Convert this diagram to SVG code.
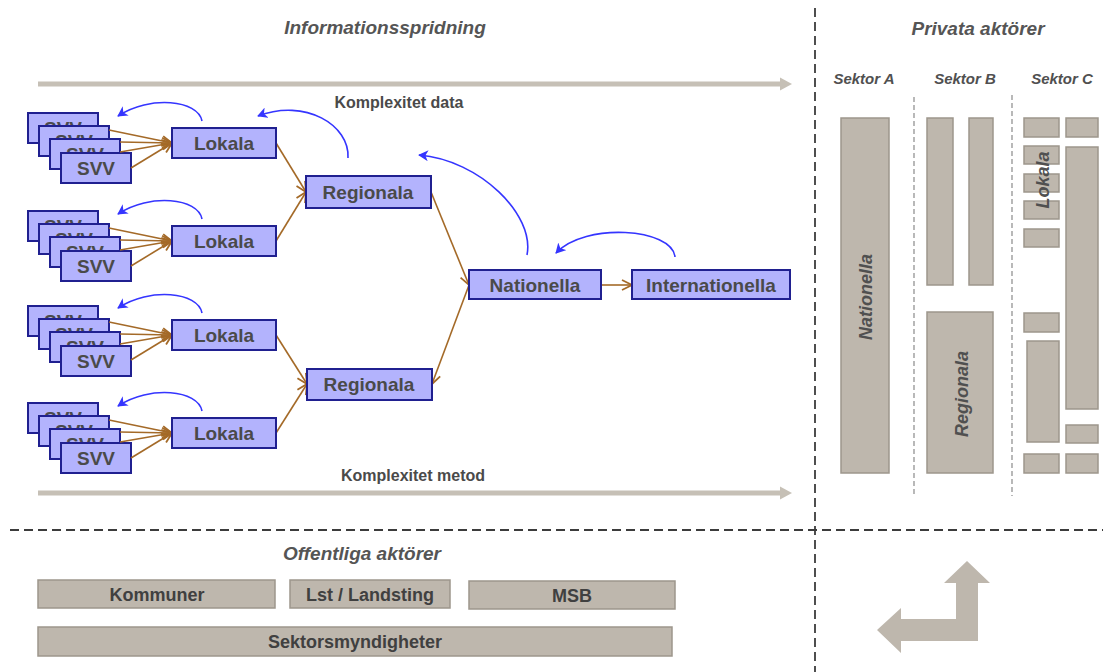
<svg xmlns="http://www.w3.org/2000/svg" width="1103" height="672" viewBox="0 0 1103 672">
  <defs>
    <style>
      .bg { fill: #ffffff; }
      .node rect { fill: #b3b3fd; stroke: #202090; stroke-width: 2; }
      .node text, .lbl { font-family: "Liberation Sans", Arial, sans-serif; font-weight: bold; font-size: 19px; fill: #4a4a4a; text-anchor: middle; }
      .gbox { fill: #beb7ad; stroke: #9d968c; stroke-width: 1.5; }
      .gtext { font-family: "Liberation Sans", Arial, sans-serif; font-weight: bold; font-size: 18px; fill: #404040; text-anchor: middle; }
      .head { font-family: "Liberation Sans", Arial, sans-serif; font-weight: bold; font-style: italic; font-size: 19px; fill: #555555; text-anchor: middle; }
      .sek { font-family: "Liberation Sans", Arial, sans-serif; font-weight: bold; font-style: italic; font-size: 15px; fill: #505050; text-anchor: middle; }
      .rot { font-family: "Liberation Sans", Arial, sans-serif; font-weight: bold; font-style: italic; font-size: 18px; fill: #505050; text-anchor: middle; }
      .axis { font-family: "Liberation Sans", Arial, sans-serif; font-weight: bold; font-size: 16px; fill: #4a4a4a; text-anchor: middle; }
      .flow { fill: none; stroke: #a46a28; stroke-width: 1.6; marker-end: url(#brown); }
      .back { fill: none; stroke: #3535ff; stroke-width: 1.6; marker-end: url(#blue); }
      .div { fill: none; stroke: #3c3c3c; stroke-width: 1.8; stroke-dasharray: 9 5; }
      .sdiv { fill: none; stroke: #8a8a8a; stroke-width: 1.2; stroke-dasharray: 5 3; }
      .trend { fill: none; stroke: #c6c0b6; stroke-width: 5; }
    </style>
    <marker id="brown" viewBox="0 0 12 12" refX="11" refY="6" markerWidth="12" markerHeight="12" markerUnits="userSpaceOnUse" orient="auto">
      <path d="M1,1 L11,6 L1,11" fill="none" stroke="#a46a28" stroke-width="1.8"/>
    </marker>
    <marker id="blue" viewBox="0 0 12 12" refX="10" refY="6" markerWidth="11" markerHeight="11" markerUnits="userSpaceOnUse" orient="auto">
      <path d="M0,0 L11,6 L0,12 L3,6 z" fill="#3535ff"/>
    </marker>
    <!-- stack of four SVV sources -->
    <g id="svvStack">
      <g class="node"><rect x="28" y="0" width="70" height="30"/><text x="63" y="22">SVV</text></g>
      <g class="node"><rect x="39" y="13" width="70" height="30"/><text x="74" y="35">SVV</text></g>
      <g class="node"><rect x="50" y="26" width="70" height="30"/><text x="85" y="48">SVV</text></g>
      <g class="node"><rect x="61" y="40" width="70" height="30"/><text x="96" y="62">SVV</text></g>
    </g>
  </defs>

  <rect class="bg" x="0" y="0" width="1103" height="672"/>

  <!-- section dividers -->
  <g id="dividers">
    <line class="div" x1="815" y1="8" x2="815" y2="672"/>
    <line class="div" x1="10" y1="530" x2="1103" y2="530"/>
    <line class="sdiv" x1="914" y1="97" x2="914" y2="496"/>
    <line class="sdiv" x1="1012" y1="95" x2="1012" y2="496"/>
  </g>

  <!-- headings -->
  <text class="head" x="385" y="34">Informationsspridning</text>
  <text class="head" x="978" y="35">Privata aktörer</text>
  <text class="head" x="362" y="560">Offentliga aktörer</text>

  <!-- complexity trend arrows -->
  <g id="trends">
    <line class="trend" x1="38" y1="84" x2="782" y2="84"/>
    <polygon points="780,77.5 792,84 780,90.5" fill="#c6c0b6"/>
    <text class="axis" x="399" y="108">Komplexitet data</text>
    <line class="trend" x1="38" y1="493" x2="782" y2="493"/>
    <polygon points="780,486.5 792,493 780,499.5" fill="#c6c0b6"/>
    <text class="axis" x="413" y="481">Komplexitet metod</text>
  </g>

  <!-- SVV source stacks -->
  <g id="svv1"><use href="#svvStack" x="0" y="113"/></g>
  <g id="svv2"><use href="#svvStack" x="0" y="211"/></g>
  <g id="svv3"><use href="#svvStack" x="0" y="306"/></g>
  <g id="svv4"><use href="#svvStack" x="0" y="403"/></g>

  <!-- connectors -->
  <g id="connectors">
    <!-- SVV to Lokala -->
    <path class="flow" d="M109,130 L172,143"/>
    <path class="flow" d="M120,142 L172,143"/>
    <path class="flow" d="M120,152 L172,143"/>
    <path class="flow" d="M131,168 L172,143"/>

    <path class="flow" d="M109,228 L172,241"/>
    <path class="flow" d="M120,240 L172,241"/>
    <path class="flow" d="M120,250 L172,241"/>
    <path class="flow" d="M131,266 L172,241"/>

    <path class="flow" d="M109,322 L172,335"/>
    <path class="flow" d="M120,334 L172,335"/>
    <path class="flow" d="M120,344 L172,335"/>
    <path class="flow" d="M131,360 L172,335"/>

    <path class="flow" d="M109,420 L172,433"/>
    <path class="flow" d="M120,432 L172,433"/>
    <path class="flow" d="M120,442 L172,433"/>
    <path class="flow" d="M131,458 L172,433"/>

    <!-- Lokala to Regionala -->
    <path class="flow" d="M276,143 L306,192"/>
    <path class="flow" d="M276,241 L306,192"/>
    <path class="flow" d="M276,335 L307,384"/>
    <path class="flow" d="M276,433 L307,384"/>

    <!-- Regionala / Nationella / Internationella -->
    <path class="flow" d="M431,192 L469,285"/>
    <path class="flow" d="M469,285 L432,384"/>
    <path class="flow" d="M601,285 L632,285"/>

    <!-- feedback loops -->
    <path class="back" d="M202,121 C198,100 150,95 118,116"/>
    <path class="back" d="M202,219 C198,198 150,193 118,214"/>
    <path class="back" d="M202,313 C198,292 150,287 118,308"/>
    <path class="back" d="M202,411 C198,390 150,385 118,406"/>
    <path class="back" d="M348,158 C350,125 305,98 258,116"/>
    <path class="back" d="M527,255 C535,215 480,160 419,155"/>
    <path class="back" d="M675,257 C672,228 585,222 556,253"/>
  </g>

  <!-- aggregation levels -->
  <g id="lokala1" class="node"><rect x="172" y="128" width="104" height="30"/><text x="224" y="150">Lokala</text></g>
  <g id="lokala2" class="node"><rect x="172" y="226" width="104" height="30"/><text x="224" y="248">Lokala</text></g>
  <g id="lokala3" class="node"><rect x="172" y="320" width="104" height="30"/><text x="224" y="342">Lokala</text></g>
  <g id="lokala4" class="node"><rect x="172" y="418" width="104" height="30"/><text x="224" y="440">Lokala</text></g>
  <g id="regionala1" class="node"><rect x="306" y="176" width="125" height="32"/><text x="368" y="199">Regionala</text></g>
  <g id="regionala2" class="node"><rect x="307" y="369" width="125" height="31"/><text x="369" y="391">Regionala</text></g>
  <g id="nationella" class="node"><rect x="469" y="270" width="132" height="29"/><text x="535" y="292">Nationella</text></g>
  <g id="internationella" class="node"><rect x="632" y="270" width="158" height="29"/><text x="711" y="292">Internationella</text></g>

  <!-- private sectors -->
  <g id="privata">
    <text class="sek" x="864" y="84">Sektor A</text>
    <text class="sek" x="965" y="84">Sektor B</text>
    <text class="sek" x="1062" y="84">Sektor C</text>

    <g id="sektorA">
      <rect class="gbox" x="841" y="118" width="48" height="355"/>
      <text class="rot" transform="translate(872,297) rotate(-90)">Nationella</text>
    </g>

    <g id="sektorB">
      <rect class="gbox" x="927" y="118" width="26" height="167"/>
      <rect class="gbox" x="969" y="118" width="24" height="167"/>
      <rect class="gbox" x="927" y="312" width="66" height="161"/>
      <text class="rot" transform="translate(968,394) rotate(-90)">Regionala</text>
    </g>

    <g id="sektorC">
      <rect class="gbox" x="1024" y="118" width="35" height="19"/>
      <rect class="gbox" x="1024" y="146" width="35" height="18"/>
      <rect class="gbox" x="1024" y="174" width="35" height="18"/>
      <rect class="gbox" x="1024" y="201" width="35" height="18"/>
      <rect class="gbox" x="1024" y="229" width="35" height="18"/>
      <rect class="gbox" x="1024" y="313" width="35" height="19"/>
      <rect class="gbox" x="1027" y="341" width="32" height="101"/>
      <rect class="gbox" x="1024" y="454" width="35" height="19"/>
      <rect class="gbox" x="1066" y="118" width="32" height="19"/>
      <rect class="gbox" x="1066" y="147" width="32" height="262"/>
      <rect class="gbox" x="1066" y="425" width="32" height="18"/>
      <rect class="gbox" x="1066" y="454" width="32" height="19"/>
      <text class="rot" transform="translate(1049,180) rotate(-90)">Lokala</text>
    </g>
  </g>

  <!-- public actors -->
  <g id="kommuner"><rect class="gbox" x="38" y="580" width="237" height="28"/><text class="gtext" x="157" y="601">Kommuner</text></g>
  <g id="lst"><rect class="gbox" x="290" y="580" width="160" height="28"/><text class="gtext" x="370" y="601">Lst / Landsting</text></g>
  <g id="msb"><rect class="gbox" x="469" y="581" width="206" height="28"/><text class="gtext" x="572" y="602">MSB</text></g>
  <g id="sektorsmyndigheter"><rect class="gbox" x="38" y="627" width="634" height="29"/><text class="gtext" x="355" y="648">Sektorsmyndigheter</text></g>

  <!-- bent exchange arrow -->
  <polygon id="exchange" points="967,561 990,583 978,583 978,641 901,641 901,653 877,630 901,608 901,619 956,619 956,583 944,583" fill="#beb7ad"/>
</svg>
